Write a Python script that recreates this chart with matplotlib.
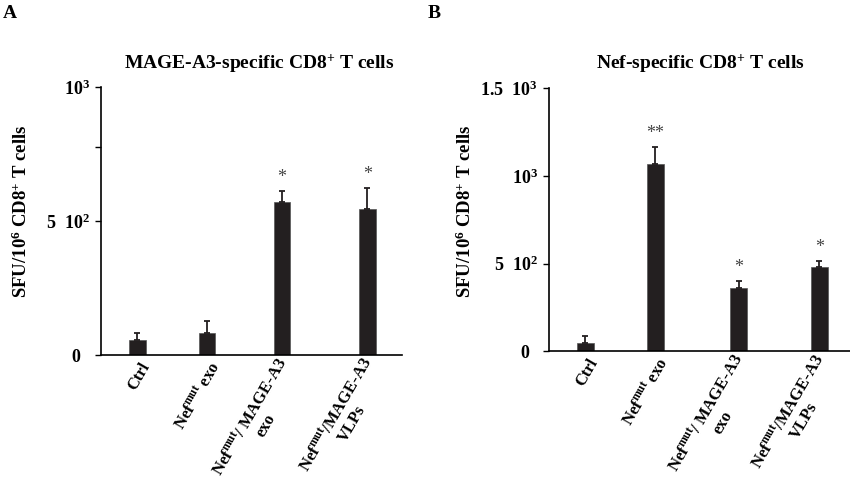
import matplotlib
matplotlib.use('Agg')
import matplotlib.pyplot as plt
import matplotlib.transforms as mtransforms
import numpy as np

plt.rcParams['font.family'] = ['Liberation Serif', 'DejaVu Serif']
plt.rcParams['font.weight'] = 'bold'
plt.rcParams['mathtext.fontset'] = 'custom'
plt.rcParams['mathtext.rm'] = 'Liberation Serif:bold'
plt.rcParams['mathtext.it'] = 'Liberation Serif:bold'
plt.rcParams['mathtext.bf'] = 'Liberation Serif:bold'

# Daten
groups = ['Ctrl', 'Nef$^{\\mathrm{mut}}$ exo',
          'Nef$^{\\mathrm{mut}}$/ MAGE-A3\nexo', 'Nef$^{\\mathrm{mut}}$/MAGE-A3\nVLPs']

mage_vals = [55, 83, 570, 544]
mage_err = [26, 44, 43, 79]
mage_stars = ['', '', '*', '*']

nef_vals = [48, 1065, 363, 479]
nef_err = [39, 101, 40, 38]
nef_stars = ['', '**', '*', '*']

ylabel = 'SFU/10$^{6}$ CD8$^{+}$ T cells'
bar_color = '#231f20'

fig = plt.figure(figsize=(8.5, 4.9), dpi=100)


def panel(rect, xpos, vals, err, stars, ymax, yticks, ylabels, minor, title, title_x, letter, letter_x, ylab_x):
    ax = fig.add_axes(rect)
    ax.bar(xpos, vals, width=0.24, color=bar_color, edgecolor='#555555', linewidth=0.5, zorder=2)
    ax.errorbar(xpos, vals, yerr=[np.zeros(len(vals)), err], fmt='none',
                ecolor=bar_color, elinewidth=1.3, capsize=2.5, capthick=1.3, zorder=3)
    for x, v, e, s in zip(xpos, vals, err, stars):
        if s:
            ax.text(x, v + e + ymax * 0.018, s, ha='center', va='bottom', fontsize=13,
                    color='#444444', fontweight='normal')
    ax.set_xlim(0, 4.3)
    ax.set_ylim(0, ymax)
    ax.spines['top'].set_visible(False)
    ax.spines['right'].set_visible(False)
    ax.spines['left'].set_linewidth(1.2)
    ax.spines['bottom'].set_linewidth(1.2)
    ax.set_yticks(yticks)
    ax.set_yticklabels(ylabels, fontsize=13)
    ax.set_yticks(minor, minor=True)
    ax.tick_params(axis='y', which='both', direction='out', length=4, width=1.0, pad=4)
    ax.tick_params(axis='x', length=0, pad=6)
    ax.set_xticks(xpos)
    ax.set_xticklabels(groups, rotation=60, ha='right', va='center',
                       rotation_mode='anchor', fontsize=12, multialignment='center')
    # Beschriftungen etwas nach rechts schieben
    shift = mtransforms.ScaledTranslation(0.09, 0, fig.dpi_scale_trans)
    for lab in ax.get_xticklabels():
        lab.set_transform(lab.get_transform() + shift)
    # die "0" steht im Original etwas weiter links
    ax.get_yticklabels()[0].set_x(-0.03)
    fig.text(title_x, 0.871, title, ha='center', va='center', fontsize=14)
    fig.text(letter_x, 0.973, letter, ha='left', va='center', fontsize=14)
    fig.text(ylab_x, 0.568, ylabel, rotation=90, ha='center', va='center', fontsize=13.5)
    return ax


axA = panel([0.1185, 0.2755, 0.354, 0.5469], [0.52, 1.52, 2.59, 3.81],
            mage_vals, mage_err, mage_stars, 1000, [0, 500, 1000],
            ['0', '5  10$^{2}$', '10$^{3}$'], [775],
            'MAGE-A3-specific CD8$^{+}$ T cells', 0.305, 'A', 0.003, 0.0255)

axB = panel([0.6459, 0.2827, 0.354, 0.5377], [0.52, 1.52, 2.71, 3.86],
            nef_vals, nef_err, nef_stars, 1500, [0, 500, 1000, 1500],
            ['0', '5  10$^{2}$', '10$^{3}$', '1.5  10$^{3}$'], [],
            'Nef-specific CD8$^{+}$ T cells', 0.8235, 'B', 0.503, 0.547)

fig.savefig('out.png', dpi=100)
